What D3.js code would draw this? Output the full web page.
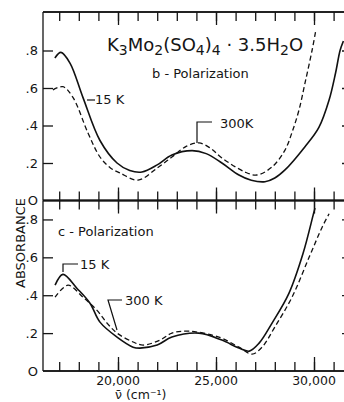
<!DOCTYPE html>
<html>
<head>
<meta charset="utf-8">
<script src="https://cdn.jsdelivr.net/npm/d3@7"></script>
<style>
  body { margin: 0; background: #fff; }
  svg { display: block; }
  text { font-family: "DejaVu Sans", sans-serif; fill: #151515; }
  .axis path, .axis line { stroke: #151515; stroke-width: 1.3; }
</style>
</head>
<body>
<div id="chart"></div>
<script>

// ---- data (wavenumber cm-1, absorbance) ----
var bSolid15K = [[16780,0.76],[17090,0.79],[17550,0.733],[18210,0.55],[19080,0.32],[19950,0.2],[20600,0.16],[21220,0.152],[22000,0.19],[22750,0.243],[23780,0.266],[24500,0.25],[25300,0.2],[26170,0.136],[26800,0.108],[27500,0.10],[28000,0.12],[28520,0.163],[29540,0.287],[30250,0.39],[30770,0.536],[31100,0.68],[31330,0.80],[31500,0.85]];
var bDashed300K = [[16680,0.59],[17190,0.607],[17700,0.55],[18470,0.36],[19080,0.232],[19600,0.175],[20100,0.147],[21020,0.109],[22000,0.173],[22750,0.232],[23500,0.29],[24130,0.307],[24700,0.28],[25300,0.227],[26480,0.152],[27090,0.136],[27860,0.179],[28520,0.269],[28900,0.37],[29235,0.483],[29540,0.626],[29900,0.80],[30080,0.9]];
var cSolid15K = [[16790,0.453],[17190,0.51],[17900,0.437],[18570,0.358],[19080,0.258],[19950,0.179],[20770,0.126],[21120,0.121],[22000,0.137],[22750,0.179],[24130,0.2],[25300,0.163],[26170,0.121],[26700,0.105],[27200,0.147],[27860,0.253],[28720,0.41],[29440,0.62],[29950,0.82],[30050,0.86]];
var cDashed300K = [[16790,0.39],[17450,0.453],[18210,0.39],[18930,0.32],[19440,0.253],[19950,0.2],[20770,0.153],[21280,0.137],[22140,0.163],[22750,0.2],[23620,0.21],[25150,0.179],[26170,0.126],[26840,0.089],[27350,0.126],[28000,0.232],[28880,0.39],[29750,0.6],[30410,0.758],[30770,0.83]];

var xMajorTicks = [20000, 25000, 30000];
var xMinorTicks = d3.range(17000, 31001, 1000);
var yTicks = [0, 0.2, 0.4, 0.6, 0.8];

// ---- layout ----
var width = 344, height = 402;
var frameL = 43, frameR = 352, frameT = 12, frameM = 200.5, frameB = 371;

var svg = d3.select('#chart').append('svg')
    .attr('width', width)
    .attr('height', height);

// x: 20,000 -> 118px, 30,000 -> 314px, then stretched to frame
var x = d3.scaleLinear().domain([20000, 30000]).range([118, 314]);
x.domain([x.invert(frameL), x.invert(frameR)]).range([frameL, frameR]);

var yTop = d3.scaleLinear().domain([0, 1]).range([frameM, frameT + 1]);
var yBot = d3.scaleLinear().domain([0, 0.9]).range([frameB, frameM]);

function yFmt(d) {
    return d === 0 ? 'O' : d3.format('.1f')(d).replace('0.', '.');
}

function hAxis(axisFn, y, ticks, size) {
    svg.append('g')
        .attr('class', 'axis')
        .attr('transform', 'translate(0,' + y + ')')
        .call(axisFn(x).tickValues(ticks).tickSize(size).tickSizeOuter(0).tickFormat(''))
        .call(function(g) { g.select('.domain').attr('d', 'M' + frameL + ',0H' + frameR); });
}

// top edge: ticks pointing down
hAxis(d3.axisBottom, frameT, xMinorTicks, 9);
hAxis(d3.axisBottom, frameT, xMajorTicks, 13);
// middle line: ticks crossing both ways
hAxis(d3.axisBottom, frameM, xMinorTicks, 9);
hAxis(d3.axisTop, frameM, xMinorTicks, 9);
hAxis(d3.axisBottom, frameM, xMajorTicks, 13);
hAxis(d3.axisTop, frameM, xMajorTicks, 13);
// bottom edge: ticks pointing up
hAxis(d3.axisTop, frameB, xMinorTicks, 9);
hAxis(d3.axisTop, frameB, xMajorTicks, 14);

// bottom tick labels
svg.selectAll('.xlab')
    .data(xMajorTicks)
    .enter()
    .append('text')
    .attr('class', 'xlab')
    .attr('x', function(d) { return x(d); })
    .attr('y', 385)
    .attr('text-anchor', 'middle')
    .style('font-size', '12.5px')
    .text(function(d) { return d3.format(',')(d); });

function vAxes(yScale, y0, y1) {
    svg.append('g')
        .attr('class', 'axis')
        .attr('transform', 'translate(' + frameL + ',0)')
        .call(d3.axisRight(yScale).tickValues(yTicks.slice(1)).tickSize(10).tickSizeOuter(0).tickFormat(''))
        .call(function(g) { g.select('.domain').attr('d', 'M0,' + y0 + 'V' + y1); });
    svg.append('g')
        .attr('class', 'axis')
        .attr('transform', 'translate(' + frameR + ',0)')
        .call(d3.axisLeft(yScale).tickValues(yTicks.slice(1)).tickSize(10).tickSizeOuter(0).tickFormat(''))
        .call(function(g) { g.select('.domain').attr('d', 'M0,' + y0 + 'V' + y1); });

    svg.append('g').selectAll('text')
        .data(yTicks)
        .enter()
        .append('text')
        .attr('x', 38)
        .attr('y', function(d) { return yScale(d) + 4.5; })
        .attr('text-anchor', 'end')
        .style('font-size', '13px')
        .text(yFmt);
}
vAxes(yTop, frameT, frameM);
vAxes(yBot, frameM, frameB);

// ---- curves ----
function drawCurve(data, yScale, dashed) {
    var line = d3.line()
        .x(function(d) { return x(d[0]); })
        .y(function(d) { return yScale(d[1]); })
        .curve(d3.curveCatmullRom.alpha(0.5));
    svg.append('path')
        .datum(data)
        .attr('d', line)
        .attr('fill', 'none')
        .attr('stroke', '#111')
        .attr('stroke-width', dashed ? 1.3 : 1.6)
        .attr('stroke-dasharray', dashed ? '5,3' : null);
}
drawCurve(bSolid15K, yTop, false);
drawCurve(bDashed300K, yTop, true);
drawCurve(cSolid15K, yBot, false);
drawCurve(cDashed300K, yBot, true);

// ---- labels ----
function leader(points) {
    svg.append('path')
        .attr('d', d3.line()(points))
        .attr('fill', 'none')
        .attr('stroke', '#111')
        .attr('stroke-width', 1.2);
}
function label(txt, px, py, size) {
    return svg.append('text')
        .attr('x', px)
        .attr('y', py)
        .style('font-size', size + 'px')
        .text(txt);
}

// title with subscripts
var title = svg.append('text')
    .attr('x', 107)
    .attr('y', 51)
    .style('font-size', '18px');
[['K', 0], ['3', 1], ['Mo', 0], ['2', 1], ['(SO', 0], ['4', 1], [')', 0], ['4', 1], [' · 3.5H', 0], ['2', 1], ['O', 0]]
    .forEach(function(p) {
        title.append('tspan')
            .attr('baseline-shift', p[1] ? '-25%' : null)
            .style('font-size', p[1] ? '14px' : null)
            .text(p[0]);
    });

label('b - Polarization', 152, 78, 13);
label('c - Polarization', 58, 236, 13);

label('15 K', 95, 104, 13);
leader([[87, 100], [95, 100]]);
label('300K', 220, 128, 13);
leader([[197, 143], [197, 122], [212, 122]]);

label('15 K', 80, 269, 13);
leader([[63, 272], [63, 264], [78, 264]]);
label('300 K', 125, 305, 13);
leader([[117, 330], [108, 300], [122, 300]]);

// axis titles
svg.append('text')
    .attr('transform', 'translate(25,243) rotate(-90)')
    .attr('text-anchor', 'middle')
    .style('font-size', '13px')
    .text('ABSORBANCE');

label('\u03BD\u0304 (cm\u207B\u00B9)', 115, 399, 12.5);

</script>
</body>
</html>
